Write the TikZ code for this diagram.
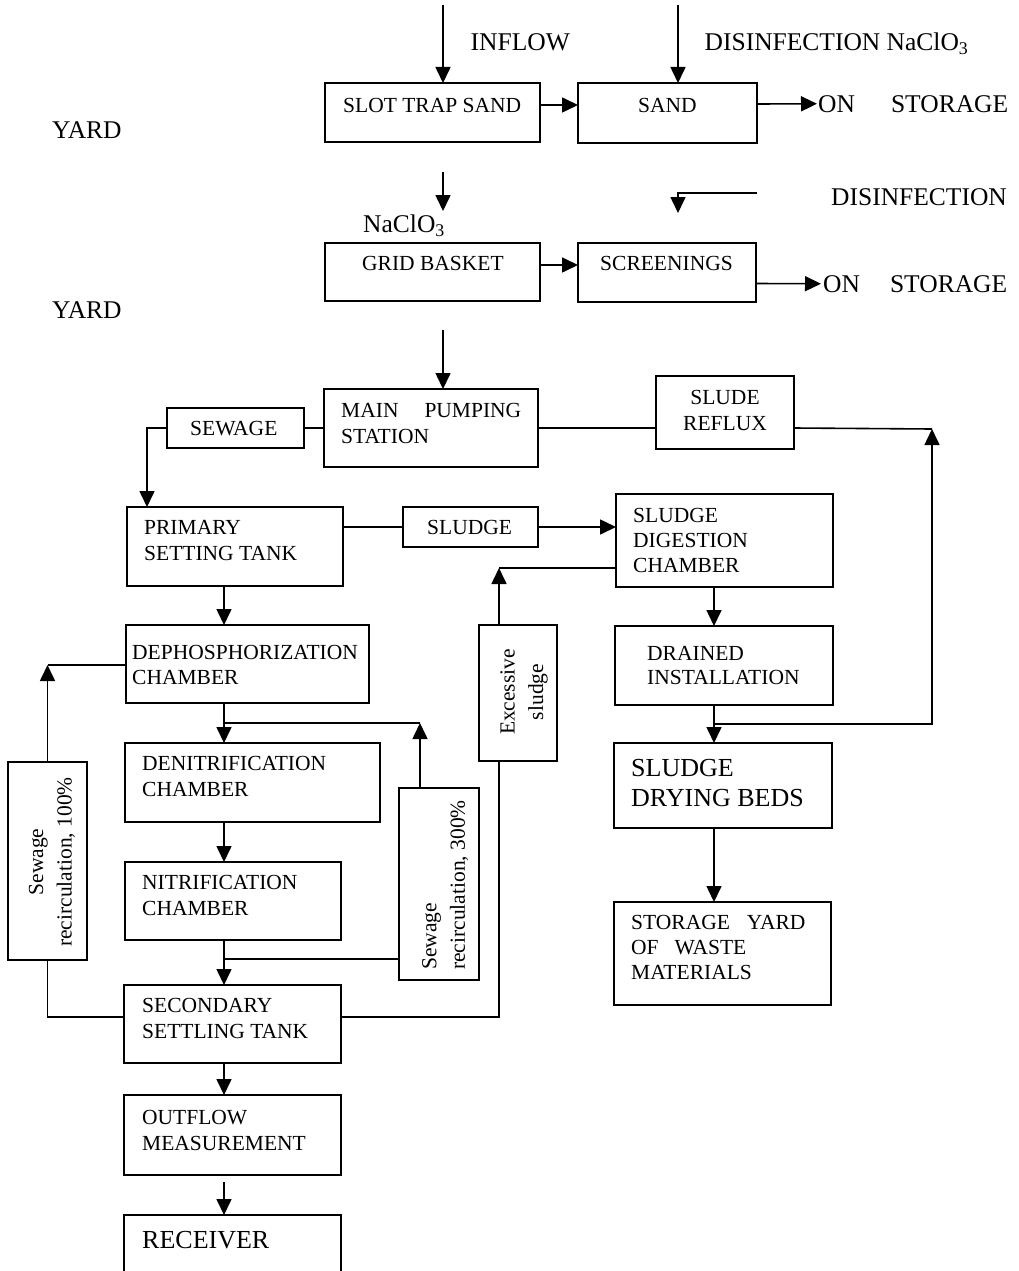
\documentclass[tikz,border=0pt]{standalone}
\usepackage{fontspec}
\setmainfont{Liberation Serif}
\usetikzlibrary{arrows.meta,fit}
\begin{document}
\begin{tikzpicture}[x=1pt,y=-1pt,
  box/.style={draw, line width=1.8pt, inner sep=0pt, outer sep=0pt},
  ln/.style={line width=1.6pt},
  arr/.style={line width=1.6pt, -{Triangle[length=16pt,width=15pt]}},
  txt/.style={inner sep=0pt, anchor=north west, align=left, font=\fontsize{21.5}{26}\selectfont},
  big/.style={inner sep=0pt, anchor=north west, align=left, font=\fontsize{26}{30}\selectfont},
  lbl/.style={inner sep=0pt, anchor=north west, font=\fontsize{25.5}{30}\selectfont},
  rtxt/.style={inner sep=0pt, rotate=90, font=\fontsize{21.5}{28.5}\selectfont}]
\useasboundingbox (0,0) rectangle (1018,1271);
\fill[white] (0,0) rectangle (1018,1271);

% ---------- boxes ----------
\node[box, fit={(325,83) (540,142)}] (slot) {};
\node[box, fit={(578,83) (757,143)}] (sand) {};
\node[box, fit={(325,243) (540,301)}] (grid) {};
\node[box, fit={(578,243) (756,302)}] (screen) {};
\node[box, fit={(324,389) (538,467)}] (main) {};
\node[box, fit={(167,408) (304,448)}] (sewage) {};
\node[box, fit={(656,376) (794,449)}] (reflux) {};
\node[box, fit={(127,507) (343,586)}] (primary) {};
\node[box, fit={(403,507) (538,547)}] (sludgeb) {};
\node[box, fit={(616,494) (833,587)}] (digest) {};
\node[box, fit={(126,625) (369,703)}] (dephos) {};
\node[box, fit={(479,625) (557,761)}] (exc) {};
\node[box, fit={(615,626) (833,705)}] (drained) {};
\node[box, fit={(125,743) (380,822)}] (denit) {};
\node[box, fit={(8,762) (87,960)}] (rec1) {};
\node[box, fit={(399,788) (479,980)}] (rec3) {};
\node[box, fit={(614,743) (832,828)}] (drying) {};
\node[box, fit={(125,862) (341,940)}] (nitr) {};
\node[box, fit={(614,902) (831,1005)}] (storage) {};
\node[box, fit={(124,985) (341,1063)}] (sec) {};
\node[box, fit={(124,1095) (341,1175)}] (outflow) {};
\node[box, fit={(124,1215) (341,1290)}] (receiver) {};

% ---------- box texts ----------
\node[txt] (tSlot) at (343,98) {SLOT TRAP SAND};
\node[txt] (tSand) at (638,98) {SAND};
\node[txt] (tGrid) at (362,256) {GRID BASKET};
\node[txt] (tScreen) at (600,256) {SCREENINGS};
\node[txt] (tMain) at (341,403) {MAIN\hspace{26pt}PUMPING\\STATION};
\node[txt] (tSewage) at (190,421) {SEWAGE};
\node[txt, align=center, anchor=north] (tReflux) at (725,390.5) {SLUDE\\REFLUX};
\node[txt] (tPrimary) at (144,520) {PRIMARY\\SETTING TANK};
\node[txt] (tSludge) at (427,520) {SLUDGE};
\node[txt, font=\fontsize{21.5}{25}\selectfont] (tDigest) at (633,508) {SLUDGE\\DIGESTION\\CHAMBER};
\node[txt, font=\fontsize{21.5}{25}\selectfont] (tDephos) at (132,645) {DEPHOSPHORIZATION\\CHAMBER};
\node[txt] (tDenit) at (142,756) {DENITRIFICATION\\CHAMBER};
\node[txt] (tNitr) at (142,875) {NITRIFICATION\\CHAMBER};
\node[txt] (tSec) at (142,998) {SECONDARY\\SETTLING TANK};
\node[txt] (tOut) at (142,1110) {OUTFLOW\\MEASUREMENT};
\node[big] (tRec) at (142,1231) {RECEIVER};
\node[txt, font=\fontsize{21.5}{24}\selectfont] (tDrained) at (647,646) {DRAINED\\INSTALLATION};
\node[big] (tDrying) at (631,759.5) {SLUDGE\\DRYING BEDS};
\node[txt, font=\fontsize{21.5}{25}\selectfont] (tStorage) at (631,915) {STORAGE\hspace{17pt}YARD\\OF\hspace{16pt}WASTE\\MATERIALS};
\node[rtxt, align=center] (tRec1) at (52,862) {Sewage\\recirculation, 100\%};
\node[rtxt, align=left, anchor=north west] (tRec3) at (422,970) {Sewage\\recirculation, 300\%};
\node[rtxt, align=center] (tExc) at (524,692) {Excessive\\sludge};

% ---------- free labels ----------
\node[lbl] (lInflow) at (470.5,33) {INFLOW};
\node[lbl] (lDis1) at (704.5,33) {DISINFECTION NaClO\textsubscript{3}};
\node[lbl] (lOn1) at (818,95) {ON\hspace{36pt}STORAGE};
\node[lbl] (lYard1) at (52,121.5) {YARD};
\node[lbl] (lDis2) at (831,188.5) {DISINFECTION};
\node[lbl] (lNa) at (363,214.5) {NaClO\textsubscript{3}};
\node[lbl] (lOn2) at (823,275) {ON\hspace{30pt}STORAGE};
\node[lbl] (lYard2) at (52,301.5) {YARD};

% ---------- coordinates ----------
\coordinate (inTop) at (443,5);
\coordinate (disTop) at (678,5);
\coordinate (a1s) at (443,172);
\coordinate (a1e) at (443,211);
\coordinate (d2s) at (757,193);
\coordinate (d2c) at (678,193);
\coordinate (d2e) at (678,213);
\coordinate (a2s) at (443,330);
\coordinate (colL) at (224,0);
\coordinate (colR) at (714,0);
\coordinate (j1) at (224,723);
\coordinate (r3c) at (420,723);
\coordinate (j2) at (224,959);
\coordinate (l1) at (47.5,665);
\coordinate (exT) at (499,568);
\coordinate (exB) at (499,761);
\coordinate (dj) at (714,724);
\coordinate (rc) at (932,429);

% ---------- connectors ----------
\draw[arr] (inTop) -- (inTop |- slot.north);
\draw[arr] (disTop) -- (disTop |- sand.north);
\draw[arr] ([yshift=7.5pt]slot.east) -- ([yshift=7.5pt]slot.east -| sand.west);
\draw[arr, shorten >=1pt] ([yshift=9pt]sand.east) -- (lOn1.west);
\draw[arr] (a1s) -- (a1e);
\draw[arr] (d2s) -- (d2c) -- (d2e);
\draw[arr] ([yshift=7pt]grid.east) -- ([yshift=7pt]grid.east -| screen.west);
\draw[arr, shorten >=2pt] ([yshift=-11pt]screen.east) -- (lOn2.west);
\draw[arr] (a2s) -- (a2s |- main.north);

\draw[ln] (main.west) -- (sewage.east);
\draw[arr] (sewage.west) -| ([xshift=20pt]primary.north west);
\draw[ln] (main.east) -- (main.east -| reflux.west);
\draw[ln] (main.east -| reflux.east) -- (rc);

\draw[ln] (sludgeb.west -| primary.east) -- (sludgeb.west);
\draw[arr] (sludgeb.east) -- (sludgeb.east -| digest.west);

\draw[arr] (colL |- primary.south) -- (colL |- dephos.north);
\draw[arr] (colL |- dephos.south) -- (colL |- denit.north);
\draw[arr] (colL |- denit.south) -- (colL |- nitr.north);
\draw[arr] (colL |- nitr.south) -- (colL |- sec.north);
\draw[arr] (colL |- sec.south) -- (colL |- outflow.north);
\draw[arr] ([yshift=-7pt]colL |- outflow.south) -- (colL |- receiver.north);

\draw[ln] (j1) -- (r3c);
\draw[arr] (r3c |- rec3.north) -- (r3c);
\draw[ln] (j2) -- (j2 -| rec3.west);

\draw[ln] ([yshift=7pt]sec.west) -| (rec1.south);
\draw[arr] (rec1.north) -- (l1);
\draw[ln] (l1) -- (l1 -| dephos.west);

\draw[ln] ([yshift=7pt]sec.east) -| (exB);
\draw[arr] (exc.north -| exT) -- (exT);
\draw[ln] (exT) -- (exT -| digest.west);

\draw[arr] (colR |- digest.south) -- (colR |- drained.north);
\draw[arr] (colR |- drained.south) -- (colR |- drying.north);
\draw[arr] (colR |- drying.south) -- (colR |- storage.north);
\draw[arr] (dj) -| (rc);
\end{tikzpicture}
\end{document}
